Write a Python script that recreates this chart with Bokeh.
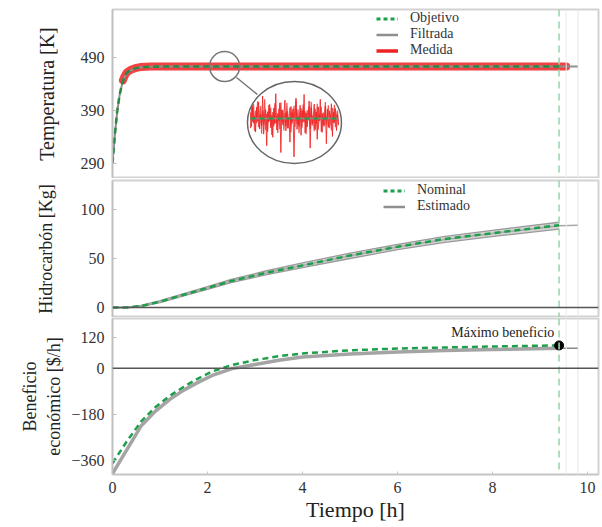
from bokeh.plotting import figure
from bokeh.layouts import column
from bokeh.models import Range1d, Span, Legend, LegendItem, FixedTicker
from bokeh.embed import file_html
from bokeh.resources import INLINE
from bokeh.core.properties import value

NAN = float("nan")

# ---------------- data ----------------
temp_t = [0, 0.05, 0.1, 0.15, 0.2, 0.25, 0.3, 0.4, 0.5, 0.6, 0.8, 1.0, 2.0, 3.0, 4.0, 5.0, 6.0, 7.0, 8.0, 9.0, 9.4]
temp_objetivo = [290, 345, 390, 420, 440, 453, 461, 467, 470, 471.5, 472.5, 473, 473, 473, 473, 473, 473, 473, 473, 473, 473]
temp_filtrada_t = [0, 0.05, 0.1, 0.15, 0.2, 0.25, 0.3, 0.4, 0.5, 0.6, 0.8, 1.0, 2.0, 3.0, 4.0, 5.0, 6.0, 7.0, 8.0, 9.0, 9.4, 9.8]
temp_filtrada = [290, 344, 389, 419, 439, 452, 460, 466.5, 470, 471.5, 472.5, 473, 473, 473, 473, 473, 473, 473, 473, 473, 473, 473]
temp_medida_t = [0.22, 0.25, 0.3, 0.4, 0.5, 0.6, 0.8, 1.0, 2.0, 3.0, 4.0, 5.0, 6.0, 7.0, 8.0, 9.0, 9.55]
temp_medida = [447, 454, 462, 467.5, 470.5, 472, 473, 473, 473, 473, 473, 473, 473, 473, 473, 473, 473]

# zoomed detail of the measured signal (deviation in K around the setpoint)
inset_noise = [1.5, -2.0, 3.2, -1.1, 0.6, -3.4, 2.8, -0.7, 4.1, -2.6, 1.0, -1.8, 5.6, -3.9, 0.4, 2.2,
               -6.8, 1.7, -0.9, 3.5, -2.3, 0.8, -4.7, 2.6, -1.4, 6.2, -2.9, 1.3, -0.5, 3.9, -8.5, 2.1,
               -1.6, 0.9, 4.6, -3.1, 1.8, -2.4, 0.3, -5.9, 3.0, -1.2, 2.4, -9.6, 1.1, 5.1, -2.7, 0.5,
               -1.9, 3.3, -4.2, 2.0, -0.8, 6.0, -3.6, 1.4, -2.1, 0.7, 4.4, -7.4, 2.7, -1.3, 0.2, 3.6,
               -2.8, 1.6, -5.2, 2.9, -0.6, 4.8, -3.3, 1.2, -1.7, 0.4, 3.1, -6.3, 2.3, -2.2, 1.9, -0.4,
               3.7, -4.5, 1.5, -1.0, 2.5, -3.0, 0.9, -1.5]
inset_noise_b = [-2.4, 2.9, -0.8, 3.6, -3.1, 1.9, -1.2, 4.3, -2.2, 0.5, 3.1, -3.8, 2.0, -1.5, 4.8, -2.9,
                 1.2, -3.3, 3.4, -0.6, 2.7, -4.1, 1.6, -2.0, 3.8, -1.1, 0.7, -3.6, 2.5, -2.7, 4.0, -0.9,
                 2.2, -3.0, 1.4, -1.9, 3.9, -2.5, 0.6, 2.8, -3.4, 1.7, -0.7, 3.2, -2.1, 4.5, -1.4, 2.3,
                 -3.7, 0.9, 2.6, -2.3, 3.5, -1.0, 1.8, -3.9, 2.1, -0.5, 3.0, -2.6, 4.2, -1.8, 0.8, -3.2,
                 2.4, -1.3, 3.7, -2.8, 1.1, -0.4, 2.9, -3.5, 1.5, -2.0, 4.1, -1.6, 0.3, 3.3, -2.4, 1.0,
                 -3.0, 2.6, -1.1, 3.4, -2.2, 0.6, 2.0, -1.7]

hc_t = [0, 0.3, 0.6, 1.0, 1.5, 2.0, 2.5, 3.2, 4.0, 5.0, 6.0, 7.0, 8.2, 9.4]
hc_nominal = [0, 0, 1.5, 6, 13, 20, 27, 35, 43, 53, 62, 70, 77, 84]
hc_est_hi = [0, 0.3, 2.2, 7, 14.2, 21.2, 28.7, 37, 45.5, 55.5, 64.5, 72.5, 80, 87]
hc_est_lo = [0, -0.3, 0.8, 5, 11.8, 18.5, 25.3, 33, 40.8, 50, 59, 66.5, 73.5, 80]
hc_est_t = [0, 0.3, 0.6, 1.0, 1.5, 2.0, 2.5, 3.2, 4.0, 5.0, 6.0, 7.0, 8.2, 9.4, 9.8]
hc_estimado = [0, 0, 1.5, 6, 13, 19.8, 27, 35, 43, 52.7, 61.7, 69.5, 76.7, 83.5, 84]

ben_t = [0, 0.3, 0.6, 0.9, 1.2, 1.5, 1.8, 2.1, 2.5, 3.0, 3.5, 4.0, 5.0, 6.0, 7.0, 8.0, 9.4]
ben_nominal = [-370, -285, -208, -152, -108, -72, -40, -12, 12, 32, 47, 58, 70, 77, 81, 85, 89]
ben_est_t = [0, 0.3, 0.6, 0.9, 1.2, 1.5, 1.8, 2.1, 2.5, 3.0, 3.5, 4.0, 5.0, 6.0, 7.0, 8.0, 9.4, 9.8]
ben_estimado = [-410, -318, -225, -168, -122, -85, -55, -28, -2, 15, 31, 44, 56, 63, 69, 73, 78, 78]

t_final = 9.4
t_marks = [9.55, 9.8]

x_ticks = [0, 2, 4, 6, 8, 10]
temp_ticks = [290, 390, 490]
hc_ticks = [0, 50, 100]
ben_ticks = [-360, -180, 0, 120]

# ---------------- style ----------------
SERIF = "Liberation Serif"
GREEN = "#1f9e4b"
GREEN_LIGHT = "#9dd7ad"
GRAY = "#8f8f8f"
RED = "#ee2222"
FRAME_W = 486
LEFT = 112

x_range = Range1d(0, 10.23)


def make_fig(fh, yr, top, ticks, label, label_size, label_standoff, xaxis=False):
    p = figure(frame_width=FRAME_W, frame_height=fh, x_range=x_range, y_range=yr,
               output_backend="svg", toolbar_location=None,
               min_border_left=LEFT, min_border_right=2, min_border_top=top,
               min_border_bottom=0, x_axis_location="below" if xaxis else None)
    p.grid.visible = False
    p.outline_line_color = "#d2d2d2"
    p.outline_line_width = 2
    ya = p.yaxis[0]
    ya.ticker = FixedTicker(ticks=ticks)
    ya.major_label_text_font = SERIF
    ya.major_label_text_font_size = "16px"
    ya.major_label_text_color = "#333333"
    ya.major_label_standoff = 8
    ya.axis_line_color = "#c0c0c0"
    ya.axis_line_width = 1.5
    ya.major_tick_in = 4
    ya.major_tick_out = 0
    ya.major_tick_line_color = "#c0c0c0"
    ya.minor_tick_line_color = None
    ya.axis_label = label
    ya.axis_label_text_font = SERIF
    ya.axis_label_text_font_size = label_size
    ya.axis_label_text_font_style = "normal"
    ya.axis_label_text_color = "#222222"
    ya.axis_label_standoff = label_standoff
    if xaxis:
        xa = p.xaxis[0]
        xa.ticker = FixedTicker(ticks=x_ticks)
        xa.major_label_text_font = SERIF
        xa.major_label_text_font_size = "16px"
        xa.major_label_text_color = "#333333"
        xa.major_label_standoff = 7
        xa.axis_line_color = "#c8c8c8"
        xa.axis_line_width = 1.5
        xa.major_tick_in = 3
        xa.major_tick_out = 0
        xa.major_tick_line_color = "#c8c8c8"
        xa.minor_tick_line_color = None
        xa.axis_label = "Tiempo [h]"
        xa.axis_label_text_font = SERIF
        xa.axis_label_text_font_size = "22px"
        xa.axis_label_text_font_style = "normal"
        xa.axis_label_text_color = "#222222"
        xa.axis_label_standoff = 1
    for loc, col, dash, w in [(t_marks[0], "#ececec", "solid", 1), (t_marks[1], "#e6e6e6", "solid", 1),
                              (t_final, GREEN_LIGHT, "7 5", 1.6)]:
        p.add_layout(Span(location=loc, dimension="height", line_color=col, line_dash=dash, line_width=w))
    return p


def style_legend(leg, loc):
    leg.location = loc
    leg.label_text_font = SERIF
    leg.label_text_font_size = "14px"
    leg.label_text_color = "#333333"
    leg.label_height = 15
    leg.glyph_height = 15
    leg.glyph_width = 22
    leg.label_standoff = 12
    leg.spacing = 0
    leg.padding = 0
    leg.margin = 0
    leg.border_line_color = None
    leg.background_fill_alpha = 0


# ---------------- top: temperature ----------------
TOP_FH = 169
TOP_Y0 = 9
p1 = make_fig(TOP_FH, Range1d(261.7, 580.6), TOP_Y0, temp_ticks, "Temperatura [K]", "20px", 20)
p1.line(temp_medida_t, temp_medida, line_color=RED, line_width=8, line_alpha=0.85, line_cap="round")
p1.line(temp_filtrada_t, temp_filtrada, line_color=GRAY, line_width=2)
p1.line(temp_t, temp_objetivo, line_color="#2a8a40", line_width=2.5, line_dash="6 4")

# zoom annotation
small_c = (2.36, 473)
big_c = (3.83, 367.4)
p1.line([2.61, 3.05], [452.3, 420.2], line_color="#777777", line_width=1.5)
p1.scatter([small_c[0]], [small_c[1]], marker="circle", size=30, fill_color=None,
           line_color="#777777", line_width=1.5)
p1.ellipse([big_c[0]], [big_c[1]], width=94, height=82, width_units="screen", height_units="screen",
           fill_color="white", line_color=None)

# inset ranges: noise index -> frame px 138..226, deviation (4 px / K) centred at page y 118
n = len(inset_noise)
kx = 88.0 / (n - 1)
ix0 = -138.0 / kx
p1.extra_x_ranges = {"ix": Range1d(ix0, ix0 + FRAME_W / kx)}
base_from_bottom = TOP_FH - (118 - TOP_Y0)
p1.extra_y_ranges = {"iy": Range1d(-base_from_bottom / 4.0, (TOP_FH - base_from_bottom) / 4.0)}
idx = list(range(n))
p1.line(list(range(len(inset_noise_b))), inset_noise_b, line_color="#f04040", line_width=1.2,
        line_alpha=0.9, x_range_name="ix", y_range_name="iy")
p1.line(idx, inset_noise, line_color=RED, line_width=1, line_alpha=0.85,
        x_range_name="ix", y_range_name="iy")
p1.line([0, n - 1], [0, 0], line_color=GRAY, line_width=1.5, x_range_name="ix", y_range_name="iy")
p1.line([0, n - 1], [0, 0], line_color=GREEN, line_width=2, line_dash="5 4",
        x_range_name="ix", y_range_name="iy")
p1.ellipse([big_c[0]], [big_c[1]], width=94, height=82, width_units="screen", height_units="screen",
           fill_color=None, line_color="#666666", line_width=1.5)

lg_obj = p1.line([NAN], [NAN], line_color=GREEN, line_width=3, line_dash="4 3")
lg_fil = p1.line([NAN], [NAN], line_color=GRAY, line_width=2.5)
lg_med = p1.line([NAN], [NAN], line_color=RED, line_width=3.5)
leg1 = Legend(items=[LegendItem(label="Objetivo", renderers=[lg_obj]),
                     LegendItem(label="Filtrada", renderers=[lg_fil]),
                     LegendItem(label="Medida", renderers=[lg_med])])
style_legend(leg1, (264, 120))
p1.add_layout(leg1)

# ---------------- middle: hydrocarbon ----------------
p2 = make_fig(137, Range1d(-10.2, 129.6), 2, hc_ticks, "Hidrocarbón [Kg]", "18px", 22)
p2.add_layout(Span(location=0, dimension="width", line_color="#555555", line_width=1.5))
p2.varea(x=hc_t, y1=hc_est_lo, y2=hc_est_hi, fill_color="#cfcfcf", fill_alpha=0.9)
p2.line(hc_t, hc_est_hi, line_color="#9a9a9a", line_width=1.3)
p2.line(hc_t, hc_est_lo, line_color="#9a9a9a", line_width=1.3)
p2.line(hc_est_t, hc_estimado, line_color="#a8a8a8", line_width=1.5)
p2.line(hc_t, hc_nominal, line_color=GREEN, line_width=2.5, line_dash="6 4")
lg_nom = p2.line([NAN], [NAN], line_color=GREEN, line_width=3, line_dash="4 3")
lg_est = p2.line([NAN], [NAN], line_color=GRAY, line_width=2.5)
leg2 = Legend(items=[LegendItem(label="Nominal", renderers=[lg_nom]),
                     LegendItem(label="Estimado", renderers=[lg_est])])
style_legend(leg2, (271, 103))
p2.add_layout(leg2)

# ---------------- bottom: economic benefit ----------------
p3 = make_fig(156, Range1d(-413.9, 194), 1, ben_ticks, "Beneficio\neconómico [$/h]", "18px", 4, xaxis=True)
p3.add_layout(Span(location=0, dimension="width", line_color="#555555", line_width=1.5))
p3.line(ben_est_t[:-1], ben_estimado[:-1], line_color="#9a9a9a", line_width=3.5, line_alpha=0.9)
p3.line(ben_est_t[-2:], ben_estimado[-2:], line_color="#8a8a8a", line_width=1.3)
p3.line(ben_t, ben_nominal, line_color=GREEN, line_width=2.5, line_dash="6 4")
p3.scatter([ben_t[-1]], [ben_nominal[-1]], size=9, color="black")
p3.text([ben_t[-1] - 0.1], [ben_nominal[-1]], text=["Máximo beneficio"], text_align="right",
        text_baseline="bottom", y_offset=-5, text_font=value(SERIF), text_font_size="14px",
        text_color="#222222")

layout = column(p1, p2, p3, spacing=0)
open("out.html", "w").write(file_html(layout, INLINE))
